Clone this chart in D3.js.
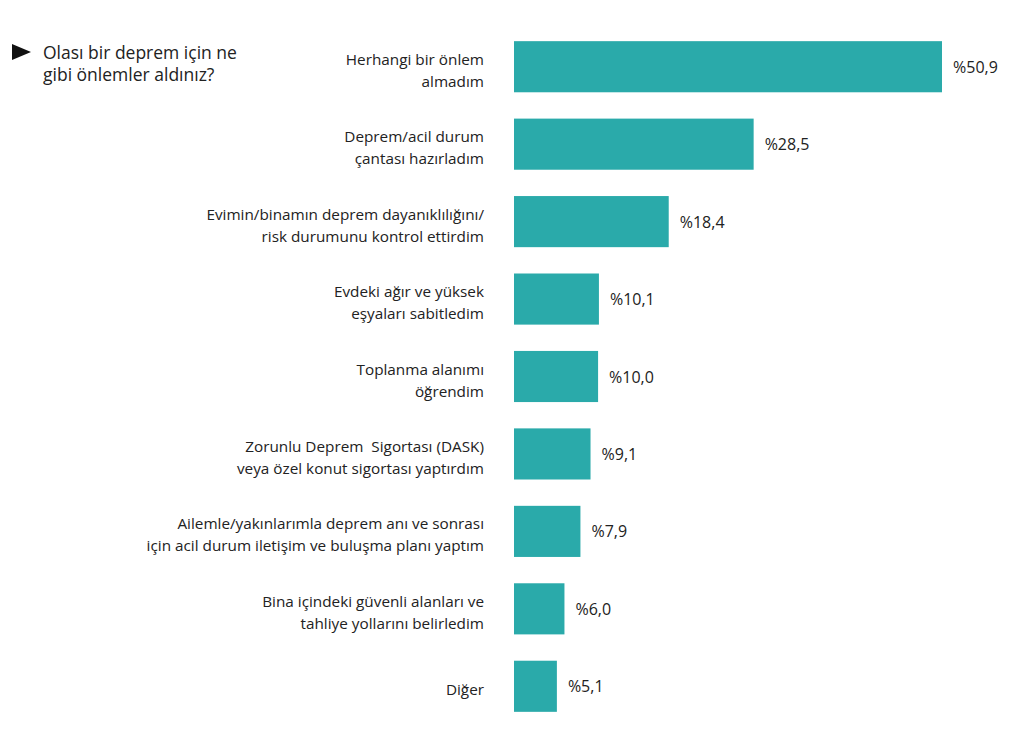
<!DOCTYPE html>
<html>
<head>
<meta charset="utf-8">
<script src="https://d3js.org/d3.v7.min.js"></script>
<style>
  body { margin: 0; background: #fff; }
  text { font-family: "Open Sans", sans-serif; fill: #222; white-space: pre; }
</style>
</head>
<body>
<div id="chart"></div>
<script>
var titleLines = ["Olası bir deprem için ne", "gibi önlemler aldınız?"];

var labels = [
    ["Herhangi bir önlem", "almadım"],
    ["Deprem/acil durum", "çantası hazırladım"],
    ["Evimin/binamın deprem dayanıklılığını/", "risk durumunu kontrol ettirdim"],
    ["Evdeki ağır ve yüksek", "eşyaları sabitledim"],
    ["Toplanma alanımı", "öğrendim"],
    ["Zorunlu Deprem  Sigortası (DASK)", "veya özel konut sigortası yaptırdım"],
    ["Ailemle/yakınlarımla deprem anı ve sonrası", "için acil durum iletişim ve buluşma planı yaptım"],
    ["Bina içindeki güvenli alanları ve", "tahliye yollarını belirledim"],
    ["Diğer"]
];

var values = [50.9, 28.5, 18.4, 10.1, 10.0, 9.1, 7.9, 6.0, 5.1];

var valueLabels = ["%50,9", "%28,5", "%18,4", "%10,1", "%10,0", "%9,1", "%7,9", "%6,0", "%5,1"];

var width = 1024, height = 740;

var svg = d3.select("#chart").append("svg")
    .attr("width", width)
    .attr("height", height);

var x = d3.scaleLinear()
    .domain([0, 50.9])
    .range([514, 942]);

var y = d3.scaleBand()
    .domain(d3.range(values.length))
    .range([28, 725])
    .paddingInner(0.34)
    .paddingOuter(0.17);

// title with arrow
svg.append("path")
    .attr("d", "M12,44 L31,52 L12,60 Z")
    .attr("fill", "#111");

svg.append("text")
    .attr("x", 43)
    .attr("y", 59)
    .style("font-size", "17.5px")
    .selectAll("tspan")
    .data(titleLines)
    .enter().append("tspan")
    .attr("x", 43)
    .attr("dy", function (d, i) { return i == 0 ? 0 : 22; })
    .text(function (d) { return d; });

var rows = svg.append("g").selectAll("g")
    .data(values)
    .enter().append("g");

rows.append("rect")
    .attr("x", x(0))
    .attr("y", function (d, i) { return y(i); })
    .attr("width", function (d) { return x(d) - x(0); })
    .attr("height", y.bandwidth())
    .attr("fill", "#2aaaaa");

rows.append("text")
    .attr("text-anchor", "end")
    .style("font-size", "15.3px")
    .each(function (d, i) {
        var lines = labels[i];
        var cy = y(i) + y.bandwidth() / 2 + 4;
        var t = d3.select(this);
        lines.forEach(function (line, j) {
            t.append("tspan")
                .attr("x", 484)
                .attr("y", cy + (j - (lines.length - 1) / 2) * 22 + 5)
                .text(line);
        });
    });

rows.append("text")
    .attr("x", function (d) { return x(d) + 11; })
    .attr("y", function (d, i) { return y(i) + y.bandwidth() / 2 + 6; })
    .style("font-size", "16px")
    .text(function (d, i) { return valueLabels[i]; });
</script>
</body>
</html>
